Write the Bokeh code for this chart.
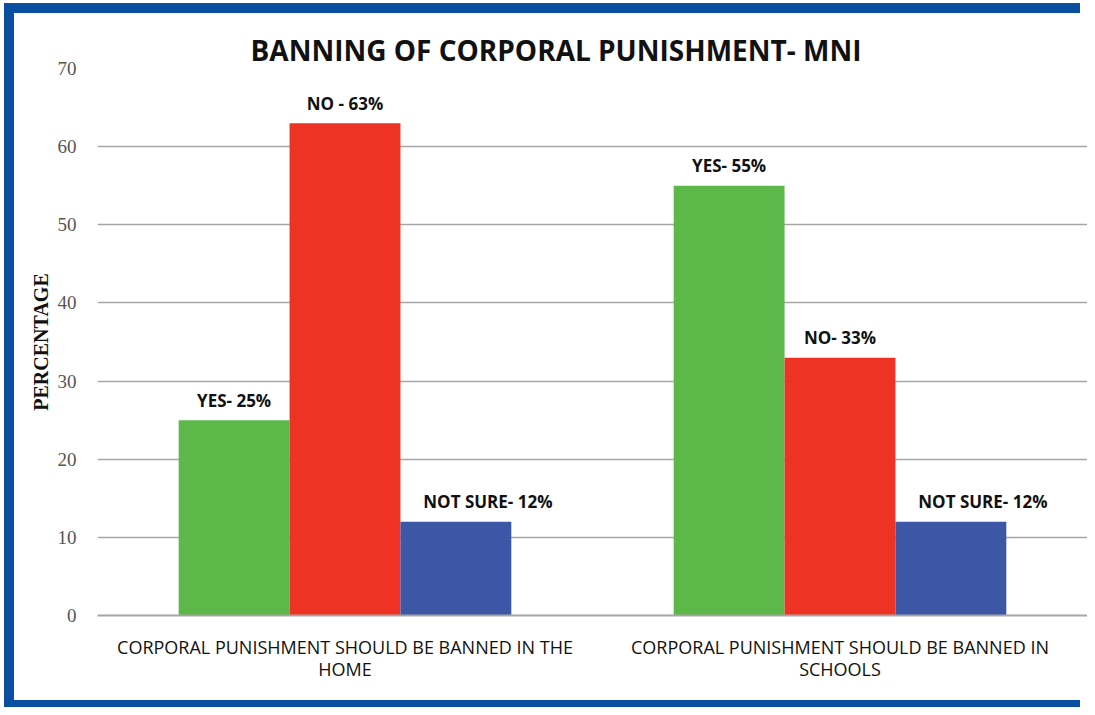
from bokeh.plotting import figure
from bokeh.models import ColumnDataSource, FactorRange, Range1d, Title
from bokeh.transform import dodge
from bokeh.core.properties import value
from bokeh.embed import file_html
from bokeh.resources import INLINE

categories = ["CORPORAL PUNISHMENT SHOULD BE BANNED IN THE\nHOME",
              "CORPORAL PUNISHMENT SHOULD BE BANNED IN\nSCHOOLS"]
yes_vals = [25, 55]
no_vals = [63, 33]
notsure_vals = [12, 12]
yes_labels = ["YES- 25%", "YES- 55%"]
no_labels = ["NO - 63%", "NO- 33%"]
notsure_labels = ["NOT SURE- 12%", "NOT SURE- 12%"]
y_ticks = [0, 10, 20, 30, 40, 50, 60, 70]

BORDER = "#0b4fa3"

p = figure(x_range=FactorRange(*categories), y_range=Range1d(0, 70),
           width=1087, height=707, output_backend="svg", toolbar_location=None,
           min_border_left=97, min_border_right=0, min_border_top=68, min_border_bottom=92)

# outer blue frame of the picture, drawn behind the (transparent) canvas border area
p.styles = {"background-color": "white",
            "box-shadow": f"inset -7px 0 0 0 white, inset 4px 3px 0 0 white, "
                          f"inset 14px 13px 0 0 {BORDER}, inset 0 -7px 0 0 {BORDER}"}

p.title = Title(text="BANNING OF CORPORAL PUNISHMENT- MNI", align="left", offset=153,
                text_font="Open Sans", text_font_size="28px", text_font_style="bold",
                text_color="#111111", standoff=0)

src = ColumnDataSource(dict(cat=categories, yes=yes_vals, no=no_vals, ns=notsure_vals,
                            yl=yes_labels, nl=no_labels, nsl=notsure_labels))

W = 0.224
series = [("yes", "yl", -W, "#5cb849", 0), ("no", "nl", 0.0, "#ee3325", 0),
          ("ns", "nsl", W, "#3c57a6", 32)]
for col, lab, off, color, xoff in series:
    p.vbar(x=dodge("cat", off, range=p.x_range), top=col, width=W, source=src,
           fill_color=color, line_color=None)
    p.text(x=dodge("cat", off, range=p.x_range), y=col, text=lab, source=src,
           text_align="center", text_baseline="alphabetic", y_offset=-20, x_offset=xoff,
           text_font=value("Open Sans"), text_font_size="17px", text_font_style="bold",
           text_color="#111111")

p.xgrid.grid_line_color = None
p.ygrid.grid_line_color = "#a6a6a6"
p.ygrid.grid_line_width = 1.5
p.outline_line_color = None
p.background_fill_color = "white"
p.border_fill_color = None

p.yaxis.ticker = y_ticks
p.yaxis.axis_line_color = None
p.yaxis.major_tick_line_color = None
p.yaxis.minor_tick_line_color = None
p.yaxis.major_label_text_font = "Liberation Serif"
p.yaxis.major_label_text_font_size = "19px"
p.yaxis.major_label_text_color = "#555555"
p.yaxis.major_label_standoff = 15
p.yaxis.axis_label = "PERCENTAGE"
p.yaxis.axis_label_text_font = "Liberation Serif"
p.yaxis.axis_label_text_font_style = "bold"
p.yaxis.axis_label_text_font_size = "20px"
p.yaxis.axis_label_text_color = "#111111"
p.yaxis.axis_label_standoff = 3

p.xaxis.axis_line_color = "#a6a6a6"
p.xaxis.axis_line_width = 2
p.xaxis.major_tick_line_color = None
p.xaxis.minor_tick_line_color = None
p.xaxis.major_label_text_font = "Open Sans"
p.xaxis.major_label_text_font_size = "18px"
p.xaxis.major_label_text_line_height = 0.95
p.xaxis.major_label_text_color = "#111111"
p.xaxis.major_label_standoff = 13

open("out.html", "w").write(file_html(p, INLINE))
